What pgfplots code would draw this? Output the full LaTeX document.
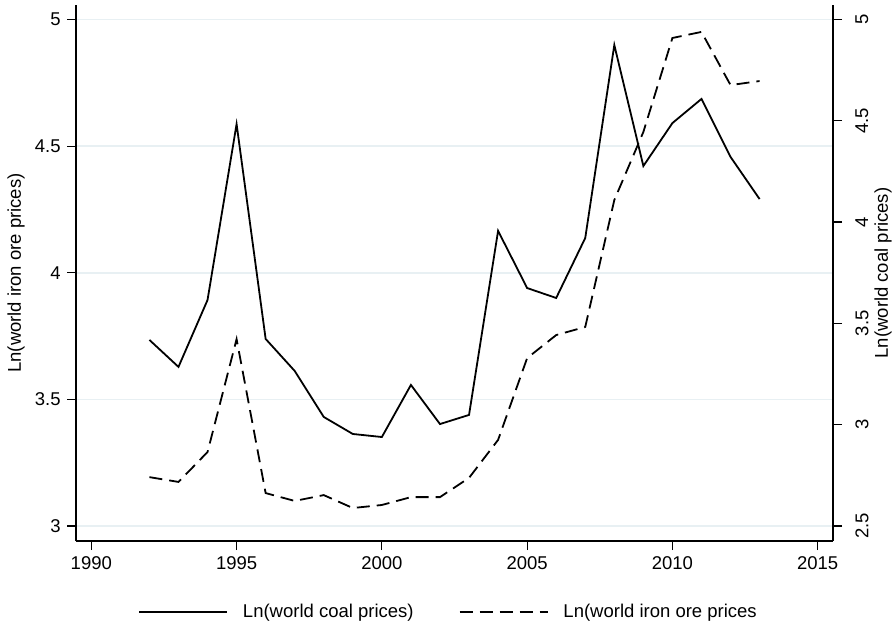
\documentclass[border=0pt]{standalone}
\usepackage{fontspec}
\setmainfont{Liberation Sans}
\usepackage{pgfplots}
\pgfplotsset{compat=1.18}
\definecolor{gridc}{RGB}{232,240,243}
\pgfplotsset{
  common/.style={
    scale only axis, width=757pt, height=536pt,
    at={(76pt,85pt)}, anchor=south west,
    xmin=1989.473, xmax=2015.527,
    tick align=outside, major tick length=9pt,
    /pgf/number format/assume math mode=true,
    every tick/.style={black, line width=1.1pt},
    axis line style={black, line width=1.3pt},
    clip=false,
  }
}
\begin{document}
\fontsize{18.5}{22}\selectfont
\begin{tikzpicture}[x=1pt,y=1pt]
\path[use as bounding box] (0,0) rectangle (893,626);
\begin{axis}[common,
  axis x line*=bottom, axis y line*=left,
  ymin=2.9408, ymax=5.0573,
  xtick={1990,1995,2000,2005,2010,2015},
  xticklabels={1990,1995,2000,2005,2010,2015},
  ytick={3,3.5,4,4.5,5},
  yticklabels={3,3.5,4,4.5,5},
  ymajorgrids, major grid style={gridc, line width=1.5pt},
  ylabel={Ln(world iron ore prices)},
  ylabel style={at={(axis description cs:-0.0793,0.5)}, anchor=center},
]
\addplot[black, line width=1.8pt, dash pattern=on 13pt off 7pt] coordinates {
(1992,3.193) (1993,3.174) (1994,3.292) (1995,3.738) (1996,3.130) (1997,3.099)
(1998,3.122) (1999,3.071) (2000,3.083) (2001,3.114) (2002,3.114) (2003,3.190)
(2004,3.340) (2005,3.663) (2006,3.754) (2007,3.786) (2008,4.287) (2009,4.556)
(2010,4.927) (2011,4.951) (2012,4.741) (2013,4.757)};
\end{axis}
\begin{axis}[common,
  axis x line=none, axis y line*=right,
  ymin=2.426, ymax=5.0705,
  ytick={2.5,3,3.5,4,4.5,5},
  yticklabels={2.5,3,3.5,4,4.5,5},
  yticklabel style={rotate=90, anchor=north},
  yticklabel shift=7pt,
  ylabel={Ln(world coal prices)},
  ylabel style={at={(axis description cs:1.066,0.5)}, anchor=center, rotate=0},
  legend columns=2,
  legend cell align=left,
  legend image code/.code={\draw[#1] (0pt,0pt) -- (88pt,0pt);},
  legend style={at={(axis description cs:0.0819,-0.1325)}, anchor=west,
    draw=none, fill=none, inner sep=0pt,
    nodes={inner sep=0pt},
    /tikz/every odd column/.append style={column sep=15pt},
    /tikz/every even column/.append style={column sep=45pt}},
]
\addplot[black, line width=1.8pt] coordinates {
(1992,3.418) (1993,3.285) (1994,3.615) (1995,4.483) (1996,3.423) (1997,3.265)
(1998,3.038) (1999,2.954) (2000,2.939) (2001,3.196) (2002,3.003) (2003,3.048)
(2004,3.956) (2005,3.674) (2006,3.625) (2007,3.921) (2008,4.873) (2009,4.276)
(2010,4.488) (2011,4.607) (2012,4.321) (2013,4.113)};
\addlegendentry{Ln(world coal prices)}
\addlegendimage{black, line width=1.8pt, dash pattern=on 13pt off 7pt}
\addlegendentry{Ln(world iron ore prices}
\end{axis}
\end{tikzpicture}
\end{document}
